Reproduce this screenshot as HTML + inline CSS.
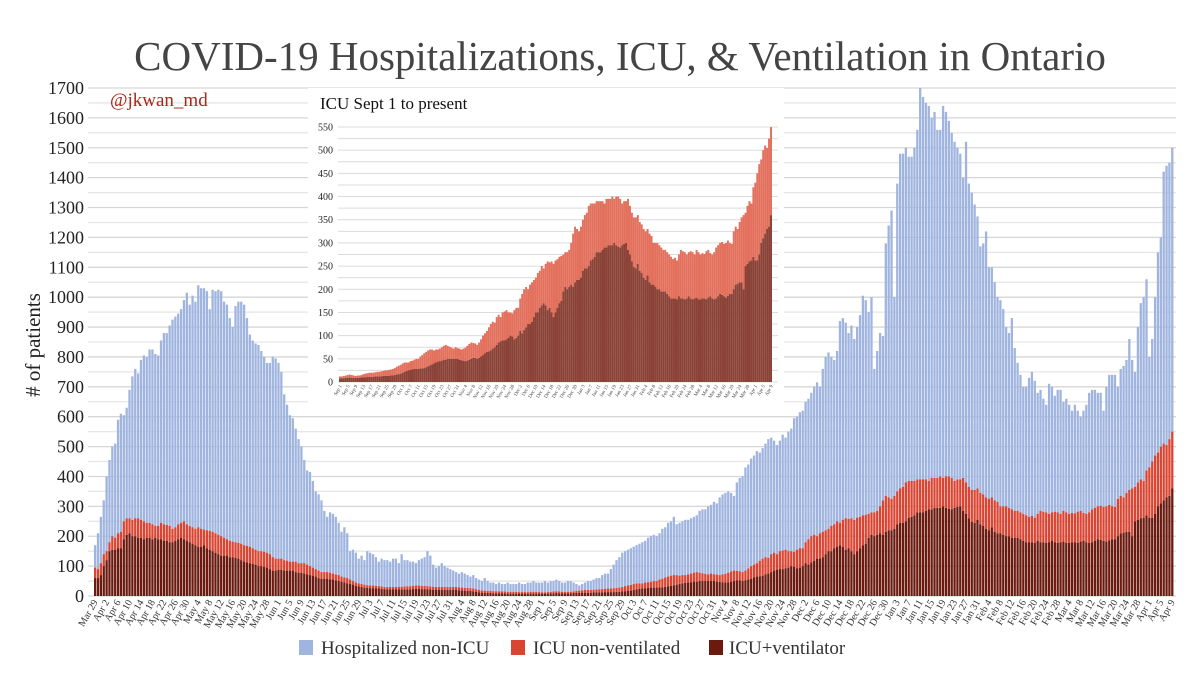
<!DOCTYPE html>
<html><head><meta charset="utf-8">
<style>
html,body{margin:0;padding:0;background:#fff;}
svg{display:block;font-family:"Liberation Serif",serif;}
</style></head>
<body>
<svg id="chart" width="1200" height="677" viewBox="0 0 1200 677">
<text x="620" y="70" text-anchor="middle" font-size="41" fill="#444">COVID-19 Hospitalizations, ICU, &amp; Ventilation in Ontario</text>
<g id="grid"></g>
<g id="yticks"></g>
<text transform="translate(40,345) rotate(-90)" text-anchor="middle" font-size="21" fill="#222"># of patients</text>
<g id="bars"></g>
<g id="xticks"></g>
<text x="110" y="106" font-size="19" fill="#a8281a">@jkwan_md</text>
<g id="inset">
<rect x="308" y="88" width="476" height="322" fill="#fff"></rect>
<text x="320" y="109" font-size="17" fill="#111">ICU Sept 1 to present</text>
</g>
<g id="legend">
<rect x="299" y="640" width="14" height="15" fill="#9fb4df"></rect>
<text x="321" y="654" font-size="19" fill="#333">Hospitalized non-ICU</text>
<rect x="511" y="640" width="14" height="15" fill="#d94532"></rect>
<text x="533" y="654" font-size="19" fill="#333">ICU non-ventilated</text>
<rect x="709" y="640" width="14" height="15" fill="#6b1a10"></rect>
<text x="729" y="654" font-size="19" fill="#333">ICU+ventilator</text>
</g>
</svg>
<script>
// Daily values from Mar 29 2020 to Apr 9 2021
const hospTotal = [170,210,265,
320,400,455,500,510,590,610,605,630,690,735,760,745,790,805,800,825,825,810,805,855,880,880,905,925,935,945,960,990,1015,
975,1005,985,1040,1030,1030,1020,960,1025,1020,1025,1020,985,975,930,900,970,985,985,975,930,875,855,845,840,820,800,780,780,800,795,
780,750,675,640,605,595,560,525,500,455,420,415,385,350,340,320,285,265,280,275,265,245,215,230,210,150,155,145,125,135,
120,150,145,140,130,115,125,120,120,115,125,125,110,140,120,120,115,115,110,120,125,130,150,135,105,95,100,110,100,95,90,
85,80,75,80,75,70,65,70,60,55,50,60,50,45,45,40,45,40,40,45,40,40,40,45,40,40,45,45,50,45,45,
45,50,45,50,50,55,50,45,45,50,50,45,40,35,40,45,50,50,55,60,60,70,75,75,90,105,120,130,145,150,
155,160,165,170,175,180,185,195,200,205,200,210,225,230,245,250,265,240,245,250,255,255,260,265,270,285,290,290,300,305,315,
310,330,340,345,350,345,335,380,395,400,430,440,460,470,485,480,495,510,525,530,520,505,520,540,530,550,560,595,600,615,
620,650,660,680,700,715,700,760,800,815,800,790,820,920,930,915,880,905,860,900,940,1005,990,950,1000,760,820,880,870,1180,1240,
1290,1000,1380,1480,1480,1500,1470,1470,1500,1560,1700,1670,1650,1640,1600,1620,1560,1560,1640,1620,1590,1550,1520,1500,1480,1400,1520,1380,1350,1310,1270,
1170,1180,1220,1100,1100,1050,1000,990,960,900,880,930,830,780,740,700,700,730,750,720,680,690,660,640,710,700,670,690,
690,650,660,640,620,640,620,600,620,640,680,690,690,680,680,620,700,740,740,740,700,760,770,790,860,790,750,900,980,1000,1060,
800,860,1000,1150,1200,1420,1440,1450,1500];
const icuTotal = [95,90,110,
140,150,180,200,195,210,215,250,260,260,255,260,260,255,250,245,245,240,235,235,245,240,238,235,225,230,240,245,250,240,
235,230,225,230,225,222,220,218,215,210,205,200,195,190,185,182,180,178,175,170,168,165,160,155,150,150,148,145,140,130,125,
125,125,120,118,115,115,115,110,110,110,105,100,95,90,85,80,80,80,78,75,72,70,65,62,60,55,50,45,42,40,
38,36,35,35,34,33,32,30,30,30,30,30,31,31,32,32,33,34,35,35,34,34,33,32,31,30,30,30,30,30,30,
30,30,29,28,27,27,26,25,22,20,18,18,17,17,16,16,15,15,15,14,14,14,14,13,13,13,13,14,14,14,13,
12,12,13,14,15,16,15,14,13,14,14,15,17,18,19,20,20,20,21,22,22,23,24,25,25,26,27,28,30,33,
35,37,40,42,42,42,45,46,48,50,50,55,58,62,65,68,70,70,68,70,70,72,75,78,80,78,76,74,72,75,73,
72,70,72,74,78,82,85,84,83,80,85,92,100,105,110,118,125,130,128,140,145,140,150,152,155,150,150,148,155,160,
160,180,190,200,205,200,210,215,220,225,235,240,250,245,255,260,258,260,255,262,265,270,272,275,280,280,285,300,320,335,330,
325,335,350,360,365,380,385,385,385,390,390,390,390,385,395,395,395,400,395,400,400,395,385,390,390,395,380,365,355,355,360,
345,340,330,325,330,320,315,300,300,300,295,290,285,285,280,275,270,265,268,262,275,285,282,280,275,280,282,280,
275,285,280,275,278,276,282,285,278,275,280,290,295,300,302,298,300,305,300,298,325,335,330,345,355,360,365,380,390,385,420,
430,450,470,480,500,510,505,525,550];
const ventilated = [60,60,70,
100,120,150,155,155,160,160,190,205,210,200,200,195,195,190,195,195,190,195,190,190,185,185,180,180,185,190,195,190,185,
180,175,170,165,165,170,160,155,150,145,140,135,135,135,130,130,128,125,120,115,112,110,108,105,100,100,97,95,90,85,85,
88,88,85,85,85,85,80,78,78,75,72,70,68,65,60,58,58,58,56,55,52,50,48,45,42,40,38,34,32,30,
28,27,26,26,25,25,24,23,22,22,22,22,22,22,22,22,22,23,24,24,23,23,22,22,21,21,20,20,20,20,20,
20,20,19,18,18,17,17,16,14,12,10,10,10,10,9,9,9,9,9,8,8,8,8,8,8,8,8,8,8,8,8,
8,8,8,9,9,10,9,9,9,9,9,10,10,10,11,11,11,11,12,12,12,12,13,13,13,13,14,14,15,16,
17,18,20,22,24,25,26,27,28,28,28,29,29,30,32,34,36,38,40,42,44,45,46,48,48,50,50,50,50,50,50,
48,47,46,45,46,48,50,52,52,50,52,55,58,62,65,66,68,72,75,80,85,88,90,90,92,95,100,98,92,95,
100,110,105,112,118,125,125,130,140,150,150,160,165,170,165,155,160,150,140,150,160,170,175,195,205,200,205,210,205,215,220,
220,225,240,245,245,250,262,265,270,280,280,280,285,290,290,295,295,295,300,295,292,290,295,298,300,285,275,260,248,245,255,
240,235,225,220,230,215,210,210,205,200,200,195,195,195,190,185,180,180,180,178,185,180,180,178,180,185,180,178,
180,182,178,178,180,180,178,182,185,180,178,180,185,190,188,185,182,186,190,190,200,210,212,215,215,200,250,255,260,262,270,
262,262,275,300,310,320,330,335,360];
const yTicks = [0,100,200,300,400,500,600,700,800,900,1000,1100,1200,1300,1400,1500,1600,1700];
const insetTicks = [0,50,100,150,200,250,300,350,400,450,500,550];
const monthNames = ["Jan","Feb","Mar","Apr","May","Jun","Jul","Aug","Sep","Oct","Nov","Dec"];
const startDate = [2020,2,29];
const insetStart = 156; // Sep 1

const NS="http://www.w3.org/2000/svg";
function mk(tag,attrs,parent){const e=document.createElementNS(NS,tag);for(const k in attrs)e.setAttribute(k,attrs[k]);parent.appendChild(e);return e;}
function dateLabel(i){const d=new Date(startDate[0],startDate[1],startDate[2]+i);return monthNames[d.getMonth()]+" "+d.getDate();}

const N = hospTotal.length;
const X0=94, X1=1174, Y0=596, YTOP=88, YMAX=1700;
const step=(X1-X0)/N;
const xs=i=>X0+i*step;
const ys=v=>Y0-v*(Y0-YTOP)/YMAX;

const grid=document.getElementById('grid');
for(let v=0; v<=YMAX; v+=50){
  const l=mk('line',{x1:88,x2:1176,y1:ys(v),y2:ys(v),stroke:v%100===0?'#d6d6d6':'#e6e6e6','stroke-width':1.3},grid);
  
  
}
const yt=document.getElementById('yticks');
yTicks.forEach(v=>{
  const t=mk('text',{x:84,y:ys(v)+6,'text-anchor':'end','font-size':18,fill:'#222'},yt);
  t.textContent=v;
  
  
});
const bars=document.getElementById('bars');
const bw=step*0.8;
for(let i=0;i<N;i++){
  const x=xs(i);
  const b1=mk('rect',{x:x,width:bw,y:ys(hospTotal[i]),height:ys(icuTotal[i])-ys(hospTotal[i]),fill:'#9fb4df'},bars);
  
  
  const b2=mk('rect',{x:x,width:bw,y:ys(icuTotal[i]),height:ys(ventilated[i])-ys(icuTotal[i]),fill:'#d94532'},bars);
  
  
  const b3=mk('rect',{x:x,width:bw,y:ys(ventilated[i]),height:Y0-ys(ventilated[i]),fill:'#6b1a10'},bars);
  
  
}
const xt=document.getElementById('xticks');
for(let i=0;i<N;i+=4){
  const x=xs(i)+bw/2;
  const t=mk('text',{x:0,y:0,'text-anchor':'end','font-size':10,fill:'#333',transform:`translate(${x+3},${Y0+6}) rotate(-60)`},xt);
  t.textContent=dateLabel(i);
  
  
}

// Inset
const inset=document.getElementById('inset');
const IX0=339, IX1=772, IY0=382, IYTOP=127, IMAX=550;
const iN=N-insetStart;
const istep=(IX1-IX0)/iN;
const ixs=i=>IX0+i*istep;
const iys=v=>IY0-v*(IY0-IYTOP)/IMAX;
for(let v=0; v<=IMAX; v+=25){
  const l=mk('line',{x1:338,x2:778,y1:iys(v),y2:iys(v),stroke:'#dcdcdc','stroke-width':1},inset);
  
  
}
insetTicks.forEach(v=>{
  const t=mk('text',{x:333,y:iys(v)+3.5,'text-anchor':'end','font-size':10,fill:'#222'},inset);
  t.textContent=v;
  
  
});
for(let j=0;j<iN;j++){
  const i=insetStart+j;
  const x=ixs(j);
  const r1=mk('rect',{x:x,width:istep,y:iys(icuTotal[i]),height:iys(ventilated[i])-iys(icuTotal[i]),fill:'#e3705c'},inset);
  
  
  const r2=mk('rect',{x:x,width:istep,y:iys(ventilated[i]),height:IY0-iys(ventilated[i]),fill:'#8a4236'},inset);
  
  
}
for(let j=0;j<iN;j+=4){
  const x=ixs(j)+istep/2;
  const t=mk('text',{x:0,y:0,'text-anchor':'end','font-size':5,fill:'#444',transform:`translate(${x+2},${IY0+4}) rotate(-60)`},inset);
  t.textContent=dateLabel(insetStart+j);
  
  
}
</script>
</body></html>
